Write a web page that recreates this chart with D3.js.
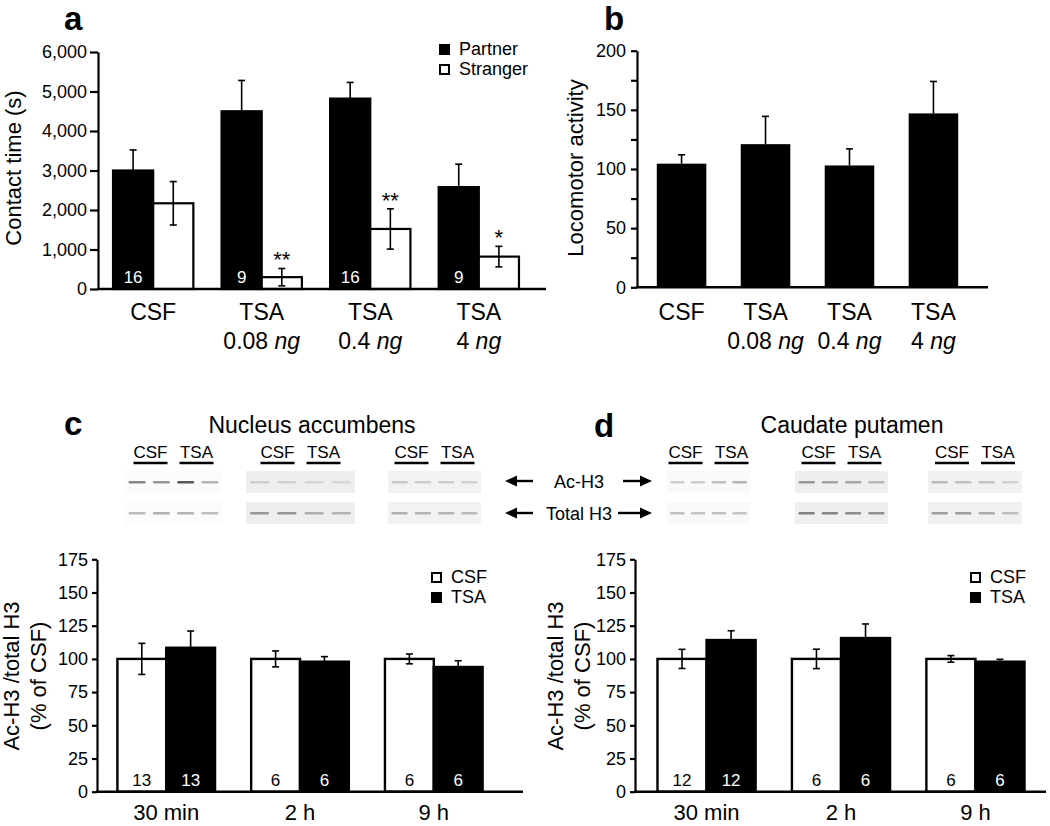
<!DOCTYPE html>
<html>
<head>
<meta charset="utf-8">
<script src="https://cdnjs.cloudflare.com/ajax/libs/d3/7.8.5/d3.min.js"></script>
<style>
  body { margin: 0; background: #fff; }
  svg { font-family: "Liberation Sans", Arial, Helvetica, sans-serif; }
  .axis path, .axis line { stroke: #000; stroke-width: 2.2; }
  .axis text { font-size: 18px; fill: #000; font-family: "Liberation Sans", Arial, sans-serif; }
</style>
</head>
<body>
<svg id="fig" width="1050" height="826"></svg>
<script>
(function () {
  // ---- data (panel a) ----
  const treatA = ["CSF", "TSA", "TSA", "TSA"];
  const doseA = ["", "0.08", "0.4", "4"];
  const partnerMean = [3000, 4500, 4820, 2580];
  const partnerSem = [520, 780, 410, 580];
  const strangerMean = [2170, 300, 1520, 820];
  const strangerSem = [550, 220, 510, 260];
  const nA = [16, 9, 16, 9];
  const starsA = ["", "**", "**", "*"];
  const yTicksA = [0, 1000, 2000, 3000, 4000, 5000, 6000];

  // ---- data (panel b) ----
  const locoMean = [104.5, 121, 103, 147];
  const locoSem = [7.5, 23.5, 14, 27];
  const yTicksB = [0, 25, 50, 75, 100, 125, 150, 175, 200];

  // ---- data (panels c, d) ----
  const times = ["30 min", "2 h", "9 h"];
  const nacCsf = [100, 100, 100];
  const nacCsfSem = [11.7, 6, 3.7];
  const nacTsa = [108.4, 97.9, 93.9];
  const nacTsaSem = [12.6, 3.8, 4.7];
  const nacN = [13, 6, 6];
  const cpCsf = [100, 100, 100];
  const cpCsfSem = [7.2, 7.3, 2.5];
  const cpTsa = [114.2, 115.7, 97.9];
  const cpTsaSem = [7, 10.6, 1.8];
  const cpN = [12, 6, 6];
  const yTicksCD = [0, 25, 50, 75, 100, 125, 150, 175];

  // blot band darkness per lane (0 white .. 1 black)
  const nacAcBands = [[0.55, 0.5, 0.72, 0.4], [0.3, 0.28, 0.26, 0.25], [0.32, 0.3, 0.3, 0.28]];
  const nacTotBands = [[0.38, 0.42, 0.4, 0.36], [0.5, 0.5, 0.42, 0.4], [0.42, 0.4, 0.4, 0.38]];
  const cpAcBands = [[0.3, 0.3, 0.36, 0.4], [0.5, 0.46, 0.45, 0.38], [0.38, 0.36, 0.34, 0.28]];
  const cpTotBands = [[0.36, 0.34, 0.36, 0.34], [0.58, 0.56, 0.54, 0.52], [0.48, 0.48, 0.43, 0.36]];

  const svg = d3.select("#fig");
  svg.append("rect").attr("width", 1050).attr("height", 826).attr("fill", "#fff");

  function errBar(g, x, y0, y1) {
    g.append("line").attr("x1", x).attr("x2", x).attr("y1", y0).attr("y2", y1)
      .attr("stroke", "#000").attr("stroke-width", 1.6);
    g.append("line").attr("x1", x - 3.5).attr("x2", x + 3.5).attr("y1", y1).attr("y2", y1)
      .attr("stroke", "#000").attr("stroke-width", 1.6);
  }

  function letter(txt, x, y) {
    svg.append("text").attr("x", x).attr("y", y).attr("font-size", 33)
      .attr("font-weight", "bold").text(txt);
  }

  function yTitle(lines, x, y, dx) {
    lines.forEach((l, i) => {
      svg.append("text")
        .attr("transform", `translate(${x + i * dx},${y}) rotate(-90)`)
        .attr("text-anchor", "middle").attr("font-size", 22).text(l);
    });
  }

  function legend(items, x, y) {
    items.forEach((it, i) => {
      svg.append("rect").attr("x", x).attr("y", y + i * 20 - 9)
        .attr("width", 9).attr("height", 9)
        .attr("fill", it.fill).attr("stroke", "#000").attr("stroke-width", 2);
      svg.append("text").attr("x", x + 19).attr("y", y + i * 20 + 1)
        .attr("font-size", 18).text(it.name);
    });
  }

  function twoLineLabels(x, cats, doses, y) {
    cats.forEach((c, i) => {
      const cx = x(i) + x.bandwidth() / 2;
      const t = svg.append("text").attr("x", cx).attr("y", y)
        .attr("text-anchor", "middle").attr("font-size", 23);
      t.append("tspan").text(c);
      if (doses[i]) {
        const t2 = t.append("tspan").attr("x", cx).attr("dy", 29);
        t2.append("tspan").text(doses[i] + " ");
        t2.append("tspan").style("font-style", "italic").text("ng");
      }
    });
  }

  // ================= panel a =================
  const xA = d3.scaleBand().domain(d3.range(4)).range([100, 532])
    .paddingInner(0.26).paddingOuter(0.12);
  const subA = d3.scaleBand().domain(["partner", "stranger"]).range([0, xA.bandwidth()]);
  const yA = d3.scaleLinear().domain([0, 6000]).range([289, 52]);
  const gA = svg.append("g");
  const seriesA = [
    { key: "partner", mean: partnerMean, sem: partnerSem, fill: "#000", down: false },
    { key: "stranger", mean: strangerMean, sem: strangerSem, fill: "#fff", down: true }
  ];
  seriesA.forEach((s) => {
    s.mean.forEach((v, i) => {
      gA.append("rect").attr("x", xA(i) + subA(s.key)).attr("y", yA(v))
        .attr("width", subA.bandwidth()).attr("height", yA(0) - yA(v))
        .attr("fill", s.fill).attr("stroke", "#000").attr("stroke-width", 2.2);
    });
  });
  seriesA.forEach((s) => {
    s.mean.forEach((v, i) => {
      const cx = xA(i) + subA(s.key) + subA.bandwidth() / 2;
      errBar(gA, cx, yA(v), yA(v + s.sem[i]));
      if (s.down) errBar(gA, cx, yA(v), yA(v - s.sem[i]));
    });
  });
  nA.forEach((n, i) => {
    gA.append("text").attr("x", xA(i) + subA("partner") + subA.bandwidth() / 2).attr("y", yA(0) - 6)
      .attr("text-anchor", "middle").attr("font-size", 17).attr("fill", "#fff").text(n);
  });
  starsA.forEach((s, i) => {
    if (!s) return;
    gA.append("text").attr("x", xA(i) + subA("stranger") + subA.bandwidth() / 2)
      .attr("y", yA(strangerMean[i] + strangerSem[i]) - 1)
      .attr("text-anchor", "middle").attr("font-size", 22).text(s);
  });
  svg.append("g").attr("class", "axis").attr("transform", "translate(98,0)")
    .call(d3.axisLeft(yA).tickValues(yTicksA).tickFormat(d3.format(",")).tickSize(8).tickSizeOuter(0).tickPadding(3));
  svg.append("line").attr("x1", 97).attr("x2", 546).attr("y1", yA(0)).attr("y2", yA(0))
    .attr("stroke", "#000").attr("stroke-width", 2.4);
  twoLineLabels(xA, treatA, doseA, 320);
  letter("a", 64, 30);
  yTitle(["Contact time (s)"], 21, 168, 0);
  legend([{ name: "Partner", fill: "#000" }, { name: "Stranger", fill: "#fff" }], 440, 54);

  // ================= panel b =================
  const xB = d3.scaleBand().domain(d3.range(4)).range([640, 975])
    .paddingInner(0.41).paddingOuter(0.2);
  const yB = d3.scaleLinear().domain([0, 200]).range([287.3, 50.7]);
  const gB = svg.append("g");
  locoMean.forEach((v, i) => {
    gB.append("rect").attr("x", xB(i)).attr("y", yB(v))
      .attr("width", xB.bandwidth()).attr("height", yB(0) - yB(v)).attr("fill", "#000");
    errBar(gB, xB(i) + xB.bandwidth() / 2, yB(v), yB(v + locoSem[i]));
  });
  svg.append("g").attr("class", "axis").attr("transform", "translate(637,0)")
    .call(d3.axisLeft(yB).tickValues(yTicksB).tickFormat((d) => d % 50 === 0 ? d : "")
      .tickSize(6).tickSizeOuter(0).tickPadding(5));
  svg.append("line").attr("x1", 636).attr("x2", 988).attr("y1", yB(0)).attr("y2", yB(0))
    .attr("stroke", "#000").attr("stroke-width", 2.4);
  twoLineLabels(xB, treatA, doseA, 320);
  letter("b", 604, 30);
  yTitle(["Locomotor activity"], 583, 168, 0);

  // ================= panels c, d (bar charts) =================
  function timePanel(axisX, rangeX, axisEnd, csf, csfSem, tsa, tsaSem, ns, legendX) {
    const x = d3.scaleBand().domain(d3.range(3)).range(rangeX).paddingInner(0.27).paddingOuter(0.13);
    const sub = d3.scaleBand().domain(["csf", "tsa"]).range([0, x.bandwidth()]);
    const y = d3.scaleLinear().domain([0, 175]).range([791.7, 559.3]);
    const g = svg.append("g");
    const series = [
      { key: "csf", mean: csf, sem: csfSem, fill: "#fff", down: true, txt: "#000" },
      { key: "tsa", mean: tsa, sem: tsaSem, fill: "#000", down: false, txt: "#fff" }
    ];
    series.forEach((s) => {
      s.mean.forEach((v, i) => {
        g.append("rect").attr("x", x(i) + sub(s.key)).attr("y", y(v))
          .attr("width", sub.bandwidth()).attr("height", y(0) - y(v))
          .attr("fill", s.fill).attr("stroke", "#000").attr("stroke-width", 2.4);
      });
    });
    series.forEach((s) => {
      s.mean.forEach((v, i) => {
        const cx = x(i) + sub(s.key) + sub.bandwidth() / 2;
        errBar(g, cx, y(v), y(v + s.sem[i]));
        if (s.down) errBar(g, cx, y(v), y(v - s.sem[i]));
        g.append("text").attr("x", cx).attr("y", y(0) - 6).attr("text-anchor", "middle")
          .attr("font-size", 17).attr("fill", s.txt).text(ns[i]);
      });
    });
    svg.append("g").attr("class", "axis").attr("transform", `translate(${axisX},0)`)
      .call(d3.axisLeft(y).tickValues(yTicksCD).tickSize(5).tickSizeOuter(0).tickPadding(4));
    svg.append("line").attr("x1", axisX - 1).attr("x2", axisEnd).attr("y1", y(0)).attr("y2", y(0))
      .attr("stroke", "#000").attr("stroke-width", 2.4);
    times.forEach((t, i) => {
      svg.append("text").attr("x", x(i) + x.bandwidth() / 2).attr("y", 820)
        .attr("text-anchor", "middle").attr("font-size", 22).text(t);
    });
    legend([{ name: "CSF", fill: "#fff" }, { name: "TSA", fill: "#000" }], legendX, 582);
  }
  timePanel(97, [100, 500], 523, nacCsf, nacCsfSem, nacTsa, nacTsaSem, nacN, 432);
  timePanel(635, [640, 1042], 1046, cpCsf, cpCsfSem, cpTsa, cpTsaSem, cpN, 971);
  yTitle(["Ac-H3 /total H3", "(% of CSF)"], 19, 676, 27);
  yTitle(["Ac-H3 /total H3", "(% of CSF)"], 563, 676, 27);
  letter("c", 64, 435);
  letter("d", 594, 437);

  // ================= western blots =================
  function blots(title, titleX, groupsX, bgs, acBands, totBands) {
    svg.append("text").attr("x", titleX).attr("y", 433).attr("text-anchor", "middle")
      .attr("font-size", 23).text(title);
    groupsX.forEach((gx, i) => {
      const lanes = d3.scaleBand().domain(d3.range(4)).range(gx).paddingInner(0.3).paddingOuter(0.15);
      [acBands, totBands].forEach((bands, r) => {
        const ry = 471 + r * 31;
        svg.append("rect").attr("x", gx[0]).attr("y", ry).attr("width", gx[1] - gx[0])
          .attr("height", 22).attr("fill", bgs[i]);
        bands[i].forEach((v, j) => {
          svg.append("rect").attr("x", lanes(j)).attr("y", ry + 10).attr("width", lanes.bandwidth())
            .attr("height", 2.5).attr("rx", 1.2).attr("fill", d3.interpolateGreys(v));
        });
      });
      const cx = (gx[0] + gx[1]) / 2;
      [["CSF", cx - 23], ["TSA", cx + 23]].forEach(([t, x]) => {
        svg.append("text").attr("x", x).attr("y", 458).attr("text-anchor", "middle")
          .attr("font-size", 17).text(t);
        svg.append("line").attr("x1", x - 17).attr("x2", x + 17).attr("y1", 463).attr("y2", 463)
          .attr("stroke", "#000").attr("stroke-width", 2.6);
      });
    });
  }
  blots("Nucleus accumbens", 312, [[125, 222], [246, 355], [388, 481]],
    ["#fbfbfb", "#eeeeee", "#f2f2f2"], nacAcBands, nacTotBands);
  blots("Caudate putamen", 852, [[667, 750], [795, 888], [928, 1022]],
    ["#f9f9f9", "#efefef", "#f1f1f1"], cpAcBands, cpTotBands);

  // arrows between blots
  function arrow(x0, x1, y) {
    const dir = Math.sign(x1 - x0);
    svg.append("line").attr("x1", x0).attr("x2", x1 - dir * 9).attr("y1", y).attr("y2", y)
      .attr("stroke", "#000").attr("stroke-width", 2.4);
    svg.append("path").attr("d", `M${x1},${y}L${x1 - dir * 12},${y - 5.5}L${x1 - dir * 12},${y + 5.5}Z`)
      .attr("fill", "#000");
  }
  [["Ac-H3", 481, 533, 623], ["Total H3", 513, 533, 618]].forEach(([t, y, l, r]) => {
    arrow(l, 505, y);
    arrow(r, 652, y);
    svg.append("text").attr("x", 579).attr("y", y + 6.5).attr("text-anchor", "middle")
      .attr("font-size", 18).text(t);
  });
})();
</script>
</body>
</html>
